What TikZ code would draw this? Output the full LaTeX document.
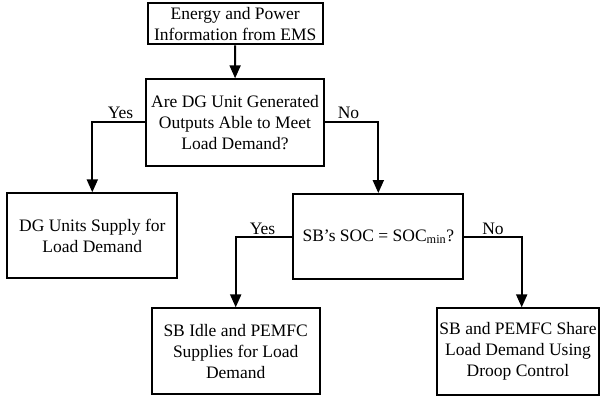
\documentclass[tikz,border=0pt]{standalone}
\usepackage{fontspec}
\setmainfont{Liberation Serif}
\usetikzlibrary{arrows.meta}
\begin{document}
\begin{tikzpicture}[x=1pt,y=-1pt,
  box/.style={draw, line width=2pt, align=center, inner sep=1pt,
    font=\fontsize{17.5}{21}\selectfont},
  flow/.style={line width=2pt, -{Triangle[length=13pt,width=11pt]}},
  lab/.style={font=\fontsize{17.5}{21}\selectfont, inner sep=0pt}]
\useasboundingbox (0,0) rectangle (601,398);
\node[box, minimum width=175pt, minimum height=41pt] (b1) at (235.2,23.8)
  {Energy and Power\\Information from EMS};
\node[box, minimum width=178pt, minimum height=86.4pt] (b2) at (235,122.5)
  {Are DG Unit Generated\\Outputs Able to Meet\\Load Demand?};
\node[box, minimum width=170pt, minimum height=85pt] (b3) at (92.3,235.8)
  {DG Units Supply for\\Load Demand};
\node[box, minimum width=170pt, minimum height=85.3pt] (b4) at (378.3,236.7)
  {SB’s SOC = SOC\textsubscript{min}?};
\node[box, minimum width=168pt, minimum height=85.7pt] (b5) at (235.7,351.2)
  {SB Idle and PEMFC\\Supplies for Load\\Demand};
\node[box, minimum width=162pt, minimum height=86.7pt] (b6) at (518,351.7)
  {SB and PEMFC Share\\Load Demand Using\\Droop Control};
\coordinate (n2) at (521.7,236.7);
\draw[flow] (b1) -- (b2);
\draw[flow] (b2.west) -| (b3.north);
\draw[flow] (b2.east) -| (b4.north);
\draw[flow] (b4.west) -| (b5.north);
\draw[flow] (b4.east) -- (n2) -- (n2 |- b6.north);
\node[lab] (y1) at (120.5,112.7) {Yes};
\node[lab] (no1) at (348.5,112.7) {No};
\node[lab] (y2) at (262.5,229) {Yes};
\node[lab] (no2) at (493,229) {No};
\end{tikzpicture}
\end{document}
